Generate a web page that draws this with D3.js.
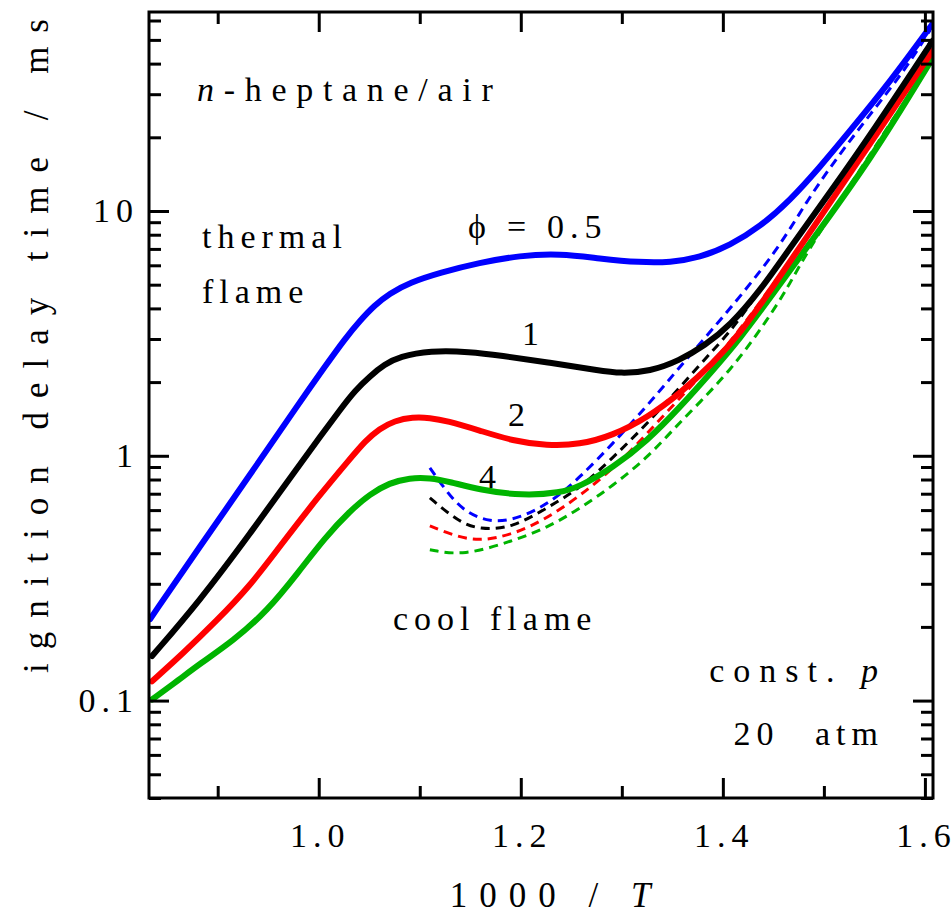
<!DOCTYPE html>
<html>
<head>
<meta charset="utf-8">
<script src="https://cdn.jsdelivr.net/npm/d3@7"></script>
<style>
  body { margin: 0; background: #fff; }
  svg { display: block; }
</style>
</head>
<body>
<svg id="chart" width="951" height="914"></svg>
<script>
// Axis ticks
const xMajorTicks = [1.0, 1.2, 1.4, 1.6];
const xMinorTicks = [0.9, 1.1, 1.3, 1.5];
const xTickLabels = ["1.0", "1.2", "1.4", "1.6"];
const yMajorTicks = [0.1, 1, 10];
const yTickLabels = ["0.1", "1", "10"];
const yMinorTicks = [0.04, 0.05, 0.06, 0.07, 0.08, 0.09,
                     0.2, 0.3, 0.4, 0.5, 0.6, 0.7, 0.8, 0.9,
                     2, 3, 4, 5, 6, 7, 8, 9,
                     20, 30, 40, 50, 60];

// Total ignition delay (ms) vs 1000/T for each equivalence ratio
const phi05Total = [[0.833,0.215],[0.882,0.424],[0.932,0.836],[0.981,1.65],[1.006,2.31],[1.026,3.01],
  [1.041,3.57],[1.055,4.11],[1.070,4.60],[1.090,5.10],[1.120,5.60],[1.159,6.15],[1.199,6.58],
  [1.239,6.70],[1.278,6.39],[1.318,6.16],[1.348,6.16],[1.377,6.45],[1.407,7.22],[1.437,8.64],
  [1.466,11.0],[1.496,15.1],[1.526,21.3],[1.565,33.5],[1.608,58.5]];
const phi1Total = [[0.835,0.152],[0.882,0.255],[0.932,0.480],[0.981,0.919],[1.001,1.19],[1.021,1.54],
  [1.036,1.85],[1.051,2.12],[1.065,2.36],[1.080,2.54],[1.110,2.69],[1.150,2.66],[1.179,2.57],
  [1.229,2.40],[1.278,2.23],[1.298,2.17],[1.328,2.21],[1.357,2.45],[1.382,2.82],[1.407,3.40],
  [1.437,4.73],[1.466,7.02],[1.506,11.9],[1.549,21.3],[1.608,49.8]];
const phi2Total = [[0.835,0.120],[0.865,0.155],[0.899,0.212],[0.932,0.294],[0.961,0.424],[1.001,0.693],
  [1.031,0.972],[1.046,1.15],[1.060,1.29],[1.075,1.39],[1.093,1.44],[1.110,1.43],[1.127,1.39],
  [1.159,1.27],[1.192,1.15],[1.226,1.10],[1.258,1.11],[1.291,1.21],[1.325,1.43],[1.357,1.79],
  [1.390,2.38],[1.417,3.16],[1.447,4.73],[1.476,7.09],[1.546,18.9],[1.608,45.3]];
const phi4Total = [[0.835,0.101],[0.862,0.122],[0.882,0.141],[0.915,0.175],[0.949,0.232],[0.981,0.339],
  [1.006,0.462],[1.031,0.596],[1.051,0.699],[1.070,0.775],[1.090,0.813],[1.110,0.813],[1.130,0.783],
  [1.159,0.726],[1.202,0.686],[1.239,0.706],[1.258,0.747],[1.291,0.893],[1.325,1.15],[1.357,1.57],
  [1.390,2.23],[1.417,3.01],[1.447,4.43],[1.483,7.09],[1.546,16.1],[1.608,42.4]];

// First-stage (cool flame) delay (ms)
const phi05Cool = [[1.110,0.893],[1.126,0.719],[1.143,0.596],[1.169,0.532],[1.199,0.553],[1.232,0.655],
  [1.258,0.813],[1.291,1.12],[1.325,1.60],[1.350,2.12],[1.374,2.77],[1.404,3.85],[1.454,6.89],
  [1.483,11.0],[1.516,17.2],[1.549,25.8],[1.582,38.6],[1.605,54.7]];
const phi1Cool = [[1.110,0.673],[1.137,0.542],[1.159,0.498],[1.192,0.508],[1.226,0.613],[1.258,0.733],
  [1.291,0.981],[1.325,1.35],[1.357,1.90],[1.390,2.69],[1.417,3.57],[1.463,6.96],[1.549,20.4],
  [1.605,48.9]];
const phi2Cool = [[1.110,0.517],[1.147,0.449],[1.176,0.458],[1.209,0.508],[1.242,0.613],[1.275,0.775],
  [1.308,1.03],[1.341,1.46],[1.374,2.03],[1.407,2.87],[1.476,7.02],[1.608,44.9]];
const phi4Cool = [[1.110,0.413],[1.143,0.390],[1.192,0.449],[1.226,0.508],[1.258,0.607],[1.291,0.754],
  [1.325,0.981],[1.350,1.27],[1.377,1.65],[1.407,2.23],[1.437,3.25],[1.466,4.96],[1.483,6.89],
  [1.608,42.0]];

const series = [
  { name: "0.5", color: "#0000ff", total: phi05Total, cool: phi05Cool },
  { name: "1",   color: "#000000", total: phi1Total,  cool: phi1Cool },
  { name: "2",   color: "#ff0000", total: phi2Total,  cool: phi2Cool },
  { name: "4",   color: "#00b400", total: phi4Total,  cool: phi4Cool }
];

const FONT = '"Liberation Serif", "Times New Roman", serif';
const FS = 34, LS = 6;

const svg = d3.select("#chart");
const m = { left: 149, right: 933, top: 12, bottom: 798 };

const x = d3.scaleLinear().domain([0.832, 1.608]).range([m.left, m.right]);
const y = d3.scaleLog().domain([0.04, 65]).range([m.bottom, m.top]);

svg.append("defs").append("clipPath").attr("id", "plot")
  .append("rect").attr("x", m.left).attr("y", m.top)
  .attr("width", m.right - m.left).attr("height", m.bottom - m.top);

const line = d3.line()
  .x(d => x(d[0])).y(d => y(d[1]))
  .curve(d3.curveBasis);

const curves = svg.append("g").attr("clip-path", "url(#plot)");

// cool-flame delays: thin dashed
curves.selectAll(".cool").data(series.slice().reverse()).join("path")
  .attr("class", "cool")
  .attr("d", d => line(d.cool))
  .attr("fill", "none")
  .attr("stroke", d => d.color)
  .attr("stroke-width", 3)
  .attr("stroke-dasharray", "9,6");

// total ignition delays: thick solid
curves.selectAll(".total").data(series.slice().reverse()).join("path")
  .attr("class", "total")
  .attr("d", d => line(d.total))
  .attr("fill", "none")
  .attr("stroke", d => d.color)
  .attr("stroke-width", 6)
  .attr("stroke-linecap", "round")
  .attr("stroke-linejoin", "round");

// per-character offsets give spaced-out tick labels without trailing space
const spacedDx = (s, first) => [first].concat(Array(s.length - 1).fill(LS)).join(" ");

// Axes: ticks pointing inward on all four sides
function styleAxis(g) {
  g.select(".domain").remove();
  g.selectAll(".tick line").attr("stroke", "#000").attr("stroke-width", 3);
  g.selectAll(".tick text")
    .style("font-family", FONT).style("font-size", FS + "px").attr("fill", "#000");
}

const bottomMajor = svg.append("g").attr("transform", `translate(0,${m.bottom})`)
  .call(d3.axisBottom(x).tickValues(xMajorTicks).tickSize(-20).tickPadding(25)
    .tickFormat((d, i) => xTickLabels[i]));
bottomMajor.call(styleAxis);
bottomMajor.selectAll(".tick text").attr("dx", (d, i) => spacedDx(xTickLabels[i], -2));
svg.append("g").attr("transform", `translate(0,${m.bottom})`)
  .call(d3.axisBottom(x).tickValues(xMinorTicks).tickSize(-12).tickFormat(""))
  .call(styleAxis);

svg.append("g").attr("transform", `translate(0,${m.top})`)
  .call(d3.axisTop(x).tickValues(xMajorTicks).tickSize(-20).tickFormat(""))
  .call(styleAxis);
svg.append("g").attr("transform", `translate(0,${m.top})`)
  .call(d3.axisTop(x).tickValues(xMinorTicks).tickSize(-12).tickFormat(""))
  .call(styleAxis);

const leftMajor = svg.append("g").attr("transform", `translate(${m.left},0)`)
  .call(d3.axisLeft(y).tickValues(yMajorTicks).tickSize(-20).tickPadding(16)
    .tickFormat((d, i) => yTickLabels[i]));
leftMajor.call(styleAxis);
leftMajor.selectAll(".tick text").attr("dx", (d, i) => spacedDx(yTickLabels[i], 0));
svg.append("g").attr("transform", `translate(${m.left},0)`)
  .call(d3.axisLeft(y).tickValues(yMinorTicks).tickSize(-12).tickFormat(""))
  .call(styleAxis);

svg.append("g").attr("transform", `translate(${m.right},0)`)
  .call(d3.axisRight(y).tickValues(yMajorTicks).tickSize(-20).tickFormat(""))
  .call(styleAxis);
svg.append("g").attr("transform", `translate(${m.right},0)`)
  .call(d3.axisRight(y).tickValues(yMinorTicks).tickSize(-12).tickFormat(""))
  .call(styleAxis);

// frame
svg.append("rect")
  .attr("x", m.left).attr("y", m.top)
  .attr("width", m.right - m.left).attr("height", m.bottom - m.top)
  .attr("fill", "none").attr("stroke", "#000").attr("stroke-width", 3);

// text helper
function txt(px, py, size, spacing, anchor) {
  return svg.append("text").attr("x", px).attr("y", py)
    .attr("text-anchor", anchor || "start").attr("fill", "#000")
    .style("font-family", FONT).style("font-size", size + "px")
    .style("letter-spacing", spacing + "px");
}

// Axis titles
txt(0, 0, 35, 0, "middle")
  .attr("transform", `translate(48,${(m.top + 680) / 2}) rotate(-90)`)
  .attr("textLength", 654).attr("lengthAdjust", "spacing")
  .text("ignition delay time / ms");

const xTitle = txt(556, 907, 35, 12, "middle");
xTitle.append("tspan").text("1000 / ");
xTitle.append("tspan").style("font-style", "italic").text("T");

// Annotations
const fuel = txt(197, 101, FS, 9.7);
fuel.append("tspan").style("font-style", "italic").text("n");
fuel.append("tspan").text("-heptane/air");

txt(202, 248, FS, LS).text("thermal");
txt(202, 303, FS, LS).text("flame");
txt(393, 630, FS, LS).text("cool flame");

const phiLabel = txt(468, 238, FS, LS);
phiLabel.append("tspan").text("\u03D5");
phiLabel.append("tspan").attr("dx", 15).text("=");
phiLabel.append("tspan").attr("dx", 15).text(series[0].name);

txt(522, 345, FS, LS).text(series[1].name);
txt(508, 426, FS, LS).text(series[2].name);
txt(479, 488, FS, LS).text(series[3].name);

const cond = txt(887, 682, FS, 9, "end");
cond.append("tspan").text("const. ");
cond.append("tspan").style("font-style", "italic").text("p");
txt(884, 745, FS, LS, "end").style("word-spacing", "21px").text("20 atm");
</script>
</body>
</html>
